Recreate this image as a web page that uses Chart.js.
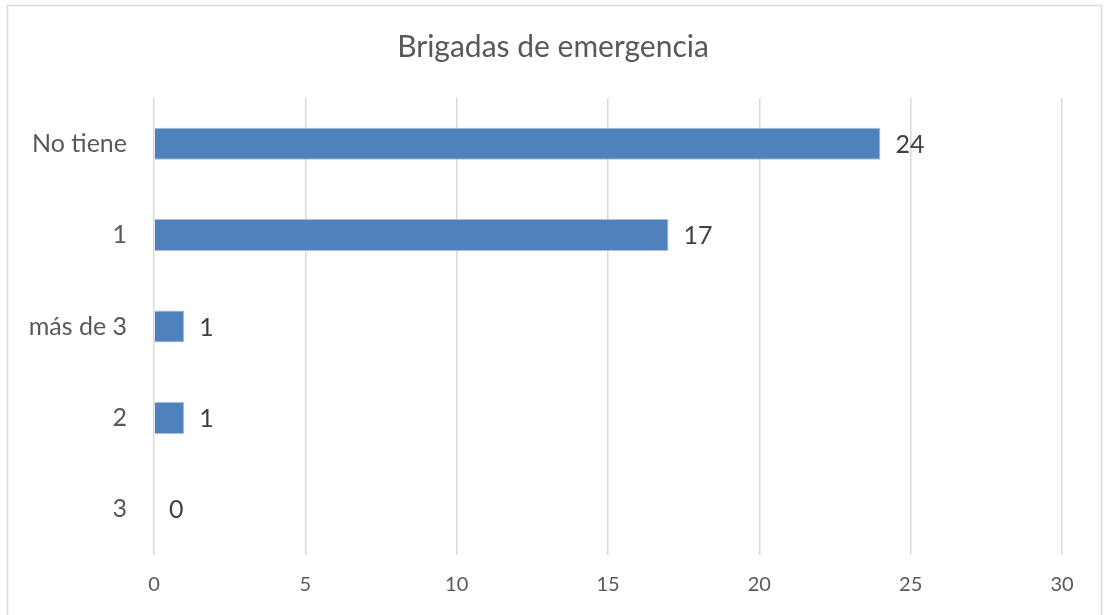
<!DOCTYPE html>
<html>
<head>
<meta charset="utf-8">
<script src="https://cdn.jsdelivr.net/npm/chart.js@4/dist/chart.umd.min.js"></script>
<style>
  body { margin: 0; background: #fff; }
  #wrap { width: 1106px; height: 615px; }
</style>
</head>
<body>
<div id="wrap"><canvas id="myChart" width="1106" height="615"></canvas></div>
<script>
const chartTitle = 'Brigadas de emergencia';
const categories = ['No tiene', '1', 'más de 3', '2', '3'];
const values = [24, 17, 1, 1, 0];
const xTicks = [0, 5, 10, 15, 20, 25, 30];

// frame round the chart and title centred on the whole frame
const framePlugin = {
  id: 'frame',
  beforeDraw(chart) {
    const c = chart.ctx;
    c.save();
    c.fillStyle = '#fff';
    c.fillRect(0, 0, chart.width, chart.height);
    c.strokeStyle = '#d9d9d9';
    c.lineWidth = 1.5;
    c.strokeRect(7.5, 5.5, 1094, 640);
    c.font = '30px Lato';
    c.fillStyle = '#595959';
    c.textAlign = 'center';
    c.textBaseline = 'middle';
    c.fillText(chartTitle, chart.width / 2, 47);
    c.restore();
  }
};

// value labels at the end of each bar
const valueLabels = {
  id: 'valueLabels',
  afterDatasetsDraw(chart) {
    const c = chart.ctx;
    const meta = chart.getDatasetMeta(0);
    c.save();
    c.font = '25px Lato';
    c.fillStyle = '#404040';
    c.textAlign = 'left';
    c.textBaseline = 'middle';
    meta.data.forEach((bar, i) => {
      c.fillText(String(values[i]), bar.x + 15, bar.y + 1);
    });
    c.restore();
  }
};

const ctx = document.getElementById('myChart').getContext('2d');
const myChart = new Chart(ctx, {
  type: 'bar',
  data: {
    labels: categories,
    datasets: [{
      data: values,
      backgroundColor: '#4f81bd',
      borderColor: '#a9c0df',
      borderWidth: 1,
      categoryPercentage: 1,
      barPercentage: 0.35
    }]
  },
  options: {
    indexAxis: 'y',
    responsive: false,
    animation: false,
    layout: { padding: { left: 0, right: 44, top: 98, bottom: 0 } },
    plugins: {
      legend: { display: false },
      tooltip: { enabled: false },
      title: { display: false }
    },
    scales: {
      x: {
        min: 0,
        max: 30,
        afterBuildTicks(scale) {
          scale.ticks = xTicks.map(v => ({ value: v }));
        },
        afterFit(scale) { scale.height = 60; },
        grid: { color: '#d9d9d9', lineWidth: 1.5, drawTicks: false },
        border: { display: false },
        ticks: {
          color: '#595959',
          font: { family: 'Lato', size: 20 },
          padding: 18
        }
      },
      y: {
        afterFit(scale) { scale.width = 154; },
        grid: { display: false, drawTicks: false },
        border: { display: false },
        ticks: {
          color: '#595959',
          font: { family: 'Lato', size: 25 },
          padding: 27
        }
      }
    }
  },
  plugins: [framePlugin, valueLabels]
});
</script>
</body>
</html>
